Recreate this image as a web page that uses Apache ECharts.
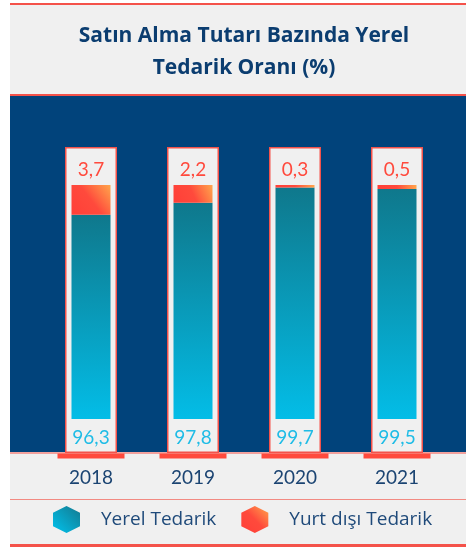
<!DOCTYPE html>
<html>
<head>
<meta charset="utf-8">
<script src="https://cdn.jsdelivr.net/npm/echarts@6/dist/echarts.min.js"></script>
<style>
  html, body { margin: 0; padding: 0; background: #fff; }
  #chart { width: 466px; height: 547px; }
</style>
</head>
<body>
<div id="chart"></div>
<script>
// data
const years = ['2018', '2019', '2020', '2021']
const yerel = [96.3, 97.8, 99.7, 99.5]
const yurtDisi = [3.7, 2.2, 0.3, 0.5]
const seriesNames = ['Yerel Tedarik', 'Yurt dışı Tedarik']

const totals = years.map((y, i) => yerel[i] + yurtDisi[i])
const fmt = (v) => String(v).replace('.', ',')
const font = 'Lato'
const textFont = 'Open Sans'
const red = '#f4524a'

const blueGrad = new echarts.graphic.LinearGradient(0, 0, 0, 1, [
  { offset: 0, color: '#0f788c' },
  { offset: 1, color: '#03bde7' }
])
const redGrad = new echarts.graphic.LinearGradient(0, 1, 1, 0, [
  { offset: 0, color: '#ff3f38' },
  { offset: 0.5, color: '#ff4a3c' },
  { offset: 1, color: '#ffa64c' }
])

const chart = echarts.init(document.getElementById('chart'))

const catAxis = (gridIndex, showLabel) => ({
  type: 'category',
  gridIndex: gridIndex,
  data: years,
  axisLine: { show: false },
  axisTick: { show: false },
  axisLabel: {
    show: showLabel,
    margin: 10,
    fontFamily: font,
    fontSize: 19,
    color: '#1b4472'
  }
})
const valAxis = (gridIndex, min, max) => ({
  type: 'value',
  gridIndex: gridIndex,
  min: min,
  max: max,
  show: false
})

const option = {
  animation: false,
  textStyle: { fontFamily: font },
  graphic: [
    { type: 'rect', z: -10, shape: { x: 10, y: 3, width: 456, height: 542 }, style: { fill: '#f0f0f0' } },
    { type: 'rect', z: -9, shape: { x: 10, y: 3, width: 456, height: 2 }, style: { fill: red } },
    { type: 'rect', z: -9, shape: { x: 10, y: 95, width: 456, height: 357 }, style: { fill: '#01437b' } },
    { type: 'rect', z: -8, shape: { x: 10, y: 94, width: 456, height: 2 }, style: { fill: red } },
    { type: 'rect', z: -8, shape: { x: 10, y: 452.5, width: 456, height: 1 }, style: { fill: red } },
    { type: 'rect', z: -8, shape: { x: 10, y: 499, width: 456, height: 1 }, style: { fill: '#f28a82' } },
    { type: 'rect', z: -8, shape: { x: 10, y: 544, width: 456, height: 3 }, style: { fill: red } },
    {
      type: 'text',
      x: 244,
      y: 52,
      style: {
        text: 'Satın Alma Tutarı Bazında Yerel\nTedarik Oranı (%)',
        font: 'bold 21px "' + textFont + '"',
        fill: '#0b3d70',
        align: 'center',
        verticalAlign: 'middle',
        lineHeight: 32
      }
    }
  ],
  legend: {
    left: 53,
    top: 506,
    padding: 0,
    itemWidth: 27,
    itemHeight: 34,
    itemGap: 25,
    icon: 'path://M50,0 L100,25 L100,75 L50,100 L0,75 L0,25 Z',
    textStyle: { fontFamily: textFont, fontSize: 19, color: '#1f4a7a', padding: [3, 0, 0, 16] },
    data: [
      {
        name: seriesNames[0],
        itemStyle: {
          color: new echarts.graphic.LinearGradient(0, 1, 1, 0, [
            { offset: 0, color: '#00c3ee' },
            { offset: 1, color: '#14798f' }
          ])
        }
      },
      { name: seriesNames[1], itemStyle: { color: redGrad } }
    ]
  },
  grid: [
    { left: 40, right: 18, top: 147, bottom: 94 },
    { left: 40, right: 18, top: 185, bottom: 128 },
    { left: 40, right: 18, top: 453.5, height: 5 }
  ],
  xAxis: [catAxis(0, false), catAxis(1, false), catAxis(2, true)],
  yAxis: [valAxis(0, 0, 100), valAxis(1, 71, 100), valAxis(2, 0, 100)],
  series: [
    {
      type: 'bar',
      xAxisIndex: 0,
      yAxisIndex: 0,
      barWidth: 52,
      silent: true,
      itemStyle: { color: '#f0f0f0', borderColor: red, borderWidth: 1.5 },
      data: totals
    },
    {
      type: 'bar',
      xAxisIndex: 2,
      yAxisIndex: 2,
      barWidth: 67,
      silent: true,
      itemStyle: { color: '#ff4a3d' },
      data: totals
    },
    {
      name: seriesNames[0],
      type: 'bar',
      xAxisIndex: 1,
      yAxisIndex: 1,
      stack: 'total',
      barWidth: 39,
      itemStyle: { color: blueGrad },
      label: {
        show: true,
        position: 'bottom',
        distance: 9,
        fontFamily: font,
        fontSize: 19,
        color: '#1fbce6',
        formatter: (p) => fmt(p.value)
      },
      data: yerel
    },
    {
      name: seriesNames[1],
      type: 'bar',
      xAxisIndex: 1,
      yAxisIndex: 1,
      stack: 'total',
      barWidth: 39,
      itemStyle: { color: redGrad },
      label: {
        show: true,
        position: 'top',
        distance: 6,
        fontFamily: font,
        fontSize: 19,
        color: '#ff4a3d',
        formatter: (p) => fmt(p.value)
      },
      data: yurtDisi
    }
  ]
}

chart.setOption(option)
</script>
</body>
</html>
